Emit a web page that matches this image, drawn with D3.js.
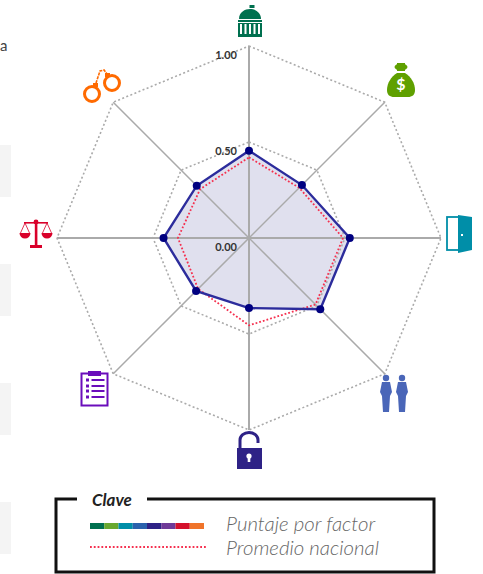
<!DOCTYPE html>
<html lang="es">
<head>
<meta charset="utf-8">
<script src="https://d3js.org/d3.v7.min.js"></script>
<style>
body { margin: 0; background: #fff; overflow: hidden; }
svg { display: block; }
text { font-family: Lato, sans-serif; }
</style>
</head>
<body>
<svg width="483" height="574"></svg>
<script>
const factors = ['Gobierno', 'Corrupcion', 'Apertura', 'Derechos', 'Seguridad', 'Regulacion', 'Civil', 'Penal'];
const puntaje = [0.455, 0.39, 0.525, 0.525, 0.365, 0.39, 0.445, 0.385];
const promedio = [0.42, 0.37, 0.49, 0.49, 0.455, 0.375, 0.37, 0.36];
const ringTicks = [0.5, 1];
const tickLabels = [0, 0.5, 1];
const keyColors = ['#00704f', '#68a82f', '#008ea8', '#2a62ad', '#2e2286', '#6f3a98', '#d4112b', '#f0742a'];
const keyLabels = ['Puntaje por factor', 'Promedio nacional'];
const sideBoxes = [0, 1, 2, 3];

const svg = d3.select('svg');
const cx = 249, cy = 238;

const r = d3.scaleLinear().domain([0, 1]).range([0, 192]);
const angle = d3.scaleLinear().domain([0, factors.length]).range([0, 2 * Math.PI]);
const radar = d3.lineRadial()
    .angle((d, i) => angle(i))
    .radius(d => r(d))
    .curve(d3.curveLinearClosed);

// grey blocks cut off on the left edge
svg.selectAll('.side').data(sideBoxes).enter().append('rect')
    .attr('x', 0).attr('y', d => 145 + d * 119)
    .attr('width', 11).attr('height', 52)
    .attr('fill', '#f4f4f4');

svg.append('text').attr('x', 0).attr('y', 51)
    .attr('font-size', 15).attr('fill', '#444').text('a');

const chart = svg.append('g').attr('transform', `translate(${cx},${cy})`);

chart.append('path')
    .attr('d', radar(puntaje))
    .attr('fill', '#e0e0ee');

chart.selectAll('.ring').data(ringTicks).enter().append('path')
    .attr('d', t => radar(factors.map(() => t)))
    .attr('fill', 'none')
    .attr('stroke', '#aaa')
    .attr('stroke-width', 1.6)
    .attr('stroke-dasharray', '2 2.4');

chart.selectAll('.spoke').data(factors).enter().append('line')
    .attr('x2', (d, i) => r(1) * Math.sin(angle(i)))
    .attr('y2', (d, i) => -r(1) * Math.cos(angle(i)))
    .attr('stroke', '#aaa')
    .attr('stroke-width', (d, i) => i % 2 ? 1.5 : 2);

chart.append('path')
    .attr('d', radar(promedio))
    .attr('fill', 'none')
    .attr('stroke', '#f5304f')
    .attr('stroke-width', 1.8)
    .attr('stroke-dasharray', '1.8 2');

chart.append('path')
    .attr('d', radar(puntaje))
    .attr('fill', 'none')
    .attr('stroke', '#2c2c9c')
    .attr('stroke-width', 2.4);

chart.selectAll('.pt').data(puntaje).enter().append('circle')
    .attr('cx', (d, i) => r(d) * Math.sin(angle(i)))
    .attr('cy', (d, i) => -r(d) * Math.cos(angle(i)))
    .attr('r', 4)
    .attr('fill', '#000080');

chart.selectAll('.tick').data(tickLabels).enter().append('text')
    .attr('x', -12)
    .attr('y', t => -r(t) + 13)
    .attr('text-anchor', 'end')
    .attr('font-size', 11)
    .attr('font-weight', 700)
    .attr('fill', '#333')
    .text(d3.format('.2f'));

// icons, one per factor
const icon = (x, y, color) => svg.append('g')
    .attr('transform', `translate(${x},${y})`)
    .attr('fill', color);

const building = icon(250, 21, '#00704f');
building.append('rect').attr('x', -0.5).attr('y', -16).attr('width', 5).attr('height', 3);
building.append('path').attr('d', 'M-11,-2 C-11,-9 -5,-12 0,-12 C5,-12 11,-9 11,-2 Z');
building.append('rect').attr('x', -12).attr('y', -1).attr('width', 24).attr('height', 2);
building.append('rect').attr('x', -12).attr('y', 2).attr('width', 24).attr('height', 14);
[-9, -4.5, 0, 4.5, 9].forEach(x => {
    building.append('rect').attr('x', x - 1).attr('y', 3).attr('width', 2).attr('height', 10).attr('fill', '#fff');
});

const bag = icon(401, 80, '#5fa000');
bag.append('ellipse').attr('cy', -13).attr('rx', 6.5).attr('ry', 3.5);
bag.append('rect').attr('x', -4).attr('y', -17).attr('width', 8).attr('height', 8);
bag.append('path').attr('d', 'M-4,-7 L4,-7 C10,-3 14,3 14,10 C14,15 11,17 7,17 L-7,17 C-11,17 -14,15 -14,10 C-14,3 -10,-3 -4,-7 Z');
bag.append('text').attr('y', 10).attr('text-anchor', 'middle')
    .attr('font-size', 16).attr('font-weight', 700).attr('fill', '#fff').text('$');

const door = icon(459, 234, '#008ea8');
door.append('rect').attr('x', -12).attr('y', -17).attr('width', 13).attr('height', 33)
    .attr('fill', 'none').attr('stroke', '#008ea8').attr('stroke-width', 1.8);
door.append('path').attr('d', 'M-1,-19 L13,-17 L13,16 L-1,19 Z');
door.append('rect').attr('x', 2).attr('y', 0).attr('width', 2).attr('height', 2).attr('fill', '#fff');

[386, 402].forEach(x => {
    const person = icon(x, 378, '#4a66b8');
    person.append('circle').attr('cy', 0).attr('r', 3.2);
    person.append('path').attr('d', 'M-4,4 L4,4 L6,14 L4,18 L3,34 L-3,34 L-4,18 L-6,14 Z');
});

const lock = icon(249, 451, '#2e2286');
lock.append('rect').attr('x', -12).attr('y', -3).attr('width', 25).attr('height', 21);
lock.append('path').attr('d', 'M-9,-3 L-9,-11 A9,7.5 0 0 1 9,-11 L9,-8')
    .attr('fill', 'none').attr('stroke', '#2e2286').attr('stroke-width', 3);
lock.append('circle').attr('cy', 5).attr('r', 2.6).attr('fill', '#fff');
lock.append('rect').attr('x', -1.3).attr('y', 5).attr('width', 2.6).attr('height', 6).attr('fill', '#fff');

const clip = icon(94, 389, '#6a0dbb');
clip.append('rect').attr('x', -12.5).attr('y', -15.5).attr('width', 26).attr('height', 32)
    .attr('fill', 'none').attr('stroke', '#6a0dbb').attr('stroke-width', 2);
clip.append('rect').attr('x', -6).attr('y', -18).attr('width', 13).attr('height', 5);
[-9, -3, 2, 8].forEach(y => {
    clip.append('rect').attr('x', -8).attr('y', y - 1.5).attr('width', 3).attr('height', 3);
    clip.append('rect').attr('x', -2.5).attr('y', y - 1).attr('width', 13).attr('height', 2);
});

const balance = icon(36, 232, '#d9002a');
balance.append('rect').attr('x', -1.2).attr('y', -11).attr('width', 2.6).attr('height', 25);
balance.append('rect').attr('x', -6).attr('y', 13).attr('width', 12).attr('height', 3);
balance.append('rect').attr('x', -12).attr('y', -10).attr('width', 24).attr('height', 1.6);
balance.append('circle').attr('cy', -10).attr('r', 2.4);
[-11, 11].forEach(x => {
    balance.append('path').attr('d', `M${x - 5.5},1 A5.5,5.5 0 0 0 ${x + 5.5},1 Z`);
    balance.append('path').attr('d', `M${x - 4.5},1 L${x},-9 L${x + 4.5},1`)
        .attr('fill', 'none').attr('stroke', '#d9002a').attr('stroke-width', 0.8);
});

const cuffs = icon(101, 85, 'none');
cuffs.append('circle').attr('cx', -9).attr('cy', 9).attr('r', 7.5)
    .attr('stroke', '#ff6a00').attr('stroke-width', 3);
cuffs.append('circle').attr('cx', 11).attr('cy', -2).attr('r', 7.5)
    .attr('stroke', '#ff6a00').attr('stroke-width', 3);
cuffs.append('rect').attr('x', -8).attr('y', -2).attr('width', 5).attr('height', 4)
    .attr('fill', '#ff6a00');
cuffs.append('rect').attr('x', 4).attr('y', -12).attr('width', 5).attr('height', 4)
    .attr('fill', '#ff6a00');
cuffs.append('path').attr('d', 'M-5,-2 L-3,-8 L-1,-14 L3,-15 L6,-11')
    .attr('stroke', '#ff6a00').attr('stroke-width', 1.6).attr('stroke-dasharray', '3 1');

// key
const key = svg.append('g');
key.append('path')
    .attr('d', 'M77,499 L56,499 L56,572 L434,572 L434,499 L147,499')
    .attr('fill', 'none').attr('stroke', '#111').attr('stroke-width', 3);
key.append('text').attr('x', 92).attr('y', 506)
    .attr('font-size', 17).attr('font-weight', 700).attr('font-style', 'italic')
    .attr('fill', '#222').text('Clave');

const keyX = d3.scaleBand().domain(keyColors).range([90, 204]);
key.selectAll('.swatch').data(keyColors).enter().append('rect')
    .attr('x', d => keyX(d)).attr('y', 523)
    .attr('width', keyX.bandwidth()).attr('height', 6)
    .attr('fill', d => d);
key.append('line')
    .attr('x1', 90).attr('x2', 206).attr('y1', 547).attr('y2', 547)
    .attr('stroke', '#f5304f').attr('stroke-width', 1.8).attr('stroke-dasharray', '1.8 2');
key.selectAll('.lab').data(keyLabels).enter().append('text')
    .attr('x', 226).attr('y', (d, i) => 531 + i * 24)
    .attr('font-size', 20.4).attr('font-style', 'italic').attr('font-weight', 300)
    .attr('fill', '#666').text(d => d);
</script>
</body>
</html>
